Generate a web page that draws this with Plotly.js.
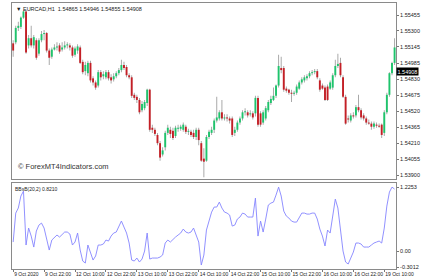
<!DOCTYPE html>
<html><head><meta charset="utf-8">
<script src="https://cdn.plot.ly/plotly-3.0.1.min.js"></script>
<style>html,body{margin:0;padding:0;background:#fff}#c{width:430px;height:280px}</style>
</head><body><div id="c"></div>
<script>
const open_=[1.5518,1.5519,1.5533,1.5534,1.5543,1.5549,1.5516,1.5523,1.5516,1.5521,
1.5508,1.5521,1.5527,1.5528,1.5511,1.5505,1.5512,1.5514,1.5516,1.5512,
1.5514,1.5516,1.5516,1.5514,1.5507,1.5511,1.5514,1.5500,1.5491,1.5489,
1.5499,1.5484,1.5480,1.5477,1.5490,1.5486,1.5485,1.5490,1.5485,1.5483,
1.5486,1.5489,1.5492,1.5497,1.5495,1.5487,1.5485,1.5468,1.5466,1.5463,
1.5453,1.5455,1.5460,1.5473,1.5436,1.5434,1.5429,1.5421,1.5410,1.5417,
1.5431,1.5434,1.5433,1.5428,1.5435,1.5435,1.5434,1.5437,1.5432,1.5432,
1.5431,1.5427,1.5434,1.5421,1.5406,1.5404,1.5427,1.5431,1.5434,1.5443,
1.5445,1.5451,1.5445,1.5446,1.5445,1.5445,1.5431,1.5434,1.5441,1.5445,
1.5451,1.5451,1.5449,1.5450,1.5450,1.5465,1.5450,1.5441,1.5445,1.5453,
1.5460,1.5463,1.5467,1.5477,1.5494,1.5494,1.5474,1.5473,1.5470,1.5469,
1.5470,1.5474,1.5480,1.5482,1.5484,1.5486,1.5489,1.5490,1.5491,1.5482,
1.5477,1.5475,1.5476,1.5474,1.5475,1.5487,1.5496,1.5499,1.5485,1.5466,
1.5445,1.5443,1.5448,1.5448,1.5456,1.5453,1.5448,1.5445,1.5441,1.5440,
1.5437,1.5439,1.5438,1.5439,1.5431,1.5451,1.5468,1.5489,1.5499];
const high_=[1.5521,1.5535,1.5539,1.5544,1.5550,1.5550,1.5526,1.5535,1.5526,1.5523,
1.5523,1.5530,1.5531,1.5529,1.5513,1.5514,1.5517,1.5519,1.5518,1.5519,
1.5520,1.5519,1.5518,1.5516,1.5515,1.5517,1.5516,1.5502,1.5500,1.5501,
1.5501,1.5486,1.5482,1.5492,1.5492,1.5491,1.5492,1.5492,1.5488,1.5489,
1.5491,1.5494,1.5502,1.5500,1.5497,1.5489,1.5487,1.5470,1.5468,1.5465,
1.5462,1.5463,1.5474,1.5474,1.5439,1.5436,1.5431,1.5423,1.5417,1.5433,
1.5439,1.5437,1.5436,1.5438,1.5439,1.5439,1.5441,1.5439,1.5435,1.5434,
1.5434,1.5436,1.5436,1.5423,1.5416,1.5429,1.5434,1.5437,1.5445,1.5466,
1.5453,1.5463,1.5449,1.5449,1.5447,1.5447,1.5437,1.5443,1.5447,1.5453,
1.5455,1.5453,1.5453,1.5452,1.5467,1.5467,1.5452,1.5453,1.5457,1.5463,
1.5467,1.5475,1.5478,1.5507,1.5505,1.5496,1.5476,1.5474,1.5473,1.5472,
1.5478,1.5482,1.5485,1.5487,1.5488,1.5491,1.5492,1.5493,1.5493,1.5484,
1.5479,1.5477,1.5478,1.5482,1.5489,1.5502,1.5508,1.5504,1.5487,1.5468,
1.5448,1.5450,1.5451,1.5458,1.5468,1.5455,1.5450,1.5447,1.5444,1.5442,
1.5442,1.5441,1.5440,1.5440,1.5453,1.5470,1.5490,1.5500,1.5523];
const low_=[1.5505,1.5517,1.5530,1.5532,1.5542,1.5508,1.5513,1.5514,1.5513,1.5502,
1.5506,1.5519,1.5521,1.5509,1.5497,1.5503,1.5511,1.5511,1.5508,1.5510,
1.5512,1.5513,1.5511,1.5504,1.5505,1.5508,1.5498,1.5488,1.5487,1.5486,
1.5480,1.5477,1.5473,1.5475,1.5482,1.5483,1.5483,1.5482,1.5479,1.5481,
1.5484,1.5487,1.5490,1.5492,1.5485,1.5483,1.5465,1.5463,1.5460,1.5449,
1.5451,1.5453,1.5457,1.5432,1.5431,1.5428,1.5419,1.5404,1.5408,1.5414,
1.5429,1.5426,1.5424,1.5426,1.5432,1.5433,1.5432,1.5430,1.5429,1.5427,
1.5425,1.5424,1.5419,1.5403,1.5388,1.5403,1.5425,1.5429,1.5431,1.5441,
1.5443,1.5443,1.5443,1.5442,1.5440,1.5427,1.5428,1.5432,1.5439,1.5443,
1.5448,1.5446,1.5447,1.5444,1.5447,1.5437,1.5437,1.5439,1.5443,1.5451,
1.5458,1.5462,1.5465,1.5475,1.5489,1.5471,1.5470,1.5468,1.5461,1.5467,
1.5468,1.5473,1.5478,1.5480,1.5482,1.5484,1.5487,1.5488,1.5483,1.5471,
1.5473,1.5462,1.5462,1.5473,1.5473,1.5485,1.5494,1.5485,1.5465,1.5439,
1.5441,1.5441,1.5445,1.5446,1.5451,1.5444,1.5443,1.5439,1.5439,1.5434,
1.5435,1.5436,1.5436,1.5426,1.5428,1.5449,1.5466,1.5487,1.5497];
const close_=[1.5511,1.5533,1.5535,1.5543,1.5549,1.5509,1.5523,1.5516,1.5524,1.5504,
1.5521,1.5527,1.5528,1.5511,1.5504,1.5512,1.5514,1.5515,1.5510,1.5514,
1.5516,1.5517,1.5514,1.5506,1.5513,1.5515,1.5499,1.5490,1.5497,1.5499,
1.5482,1.5480,1.5475,1.5490,1.5485,1.5488,1.5490,1.5484,1.5482,1.5486,
1.5489,1.5492,1.5497,1.5494,1.5487,1.5485,1.5467,1.5465,1.5463,1.5451,
1.5459,1.5461,1.5473,1.5434,1.5434,1.5430,1.5421,1.5407,1.5414,1.5431,
1.5436,1.5430,1.5426,1.5436,1.5436,1.5437,1.5439,1.5432,1.5433,1.5429,
1.5427,1.5434,1.5424,1.5404,1.5403,1.5427,1.5432,1.5434,1.5443,1.5446,
1.5451,1.5445,1.5446,1.5445,1.5443,1.5429,1.5434,1.5441,1.5445,1.5451,
1.5452,1.5448,1.5450,1.5446,1.5465,1.5439,1.5439,1.5451,1.5455,1.5461,
1.5464,1.5467,1.5477,1.5496,1.5492,1.5473,1.5472,1.5470,1.5469,1.5470,
1.5476,1.5480,1.5483,1.5485,1.5486,1.5489,1.5490,1.5491,1.5485,1.5473,
1.5474,1.5463,1.5463,1.5480,1.5487,1.5496,1.5498,1.5487,1.5466,1.5440,
1.5444,1.5448,1.5447,1.5456,1.5453,1.5446,1.5445,1.5441,1.5440,1.5437,
1.5440,1.5438,1.5437,1.5429,1.5451,1.5468,1.5489,1.5499,1.5514];
const pctB=[0.176,0.729,0.825,1.054,1.149,0.119,0.443,0.290,0.080,0.386,
0.500,0.538,0.443,0.233,0.023,0.214,0.271,0.310,0.271,0.329,
0.367,0.367,0.329,0.119,0.176,0.348,0.023,-0.187,-0.225,0.119,
-0.034,-0.168,-0.091,0.119,0.119,0.138,0.214,0.195,0.290,0.348,
0.367,0.462,0.577,0.462,0.348,0.157,-0.168,-0.187,-0.130,-0.206,
-0.149,0.004,0.348,-0.149,-0.130,-0.130,-0.130,-0.111,-0.072,0.157,
0.214,0.176,0.233,0.271,0.310,0.348,0.424,0.367,0.348,0.367,
0.443,0.290,0.176,-0.263,-0.072,0.405,0.557,0.748,0.844,0.844,
0.939,0.825,0.748,0.729,0.691,0.481,0.500,0.615,0.653,0.729,
0.710,0.653,0.653,0.653,1.015,0.290,0.576,0.367,0.615,0.882,
0.920,0.939,1.073,1.225,1.054,0.767,0.672,0.634,0.576,0.557,
0.557,0.653,0.729,0.729,0.710,0.710,0.729,0.729,0.615,0.424,
0.290,0.100,0.405,0.348,0.653,0.996,0.825,0.405,0.004,-0.206,
-0.244,-0.130,-0.015,0.157,0.157,0.138,0.080,0.080,0.080,0.119,
0.157,0.176,0.195,0.157,0.443,0.863,1.130,1.225,1.187];
const tickIdx=[0,12,24,36,48,60,72,84,96,108,120,132,144];
const tickText=["9 Oct 2020","9 Oct 22:00","12 Oct 10:00","12 Oct 22:00","13 Oct 10:00","13 Oct 22:00","14 Oct 10:00","14 Oct 22:00","15 Oct 10:00","15 Oct 22:00","16 Oct 10:00","16 Oct 22:00","19 Oct 10:00"];
const priceTicks=[1.55455,1.55300,1.55145,1.54985,1.54830,1.54675,1.54520,1.54365,1.54210,1.54055,1.53900];
const indTicks=[1.2253,0,-0.3012];
const indTickText=["1.2253","0.00","-0.3012"];
const header="▼ EURCAD,H1  1.54865 1.54946 1.54855 1.54908";
const lastPrice=1.54908;
const indLabel="BBsB(20,2) 0.8210";
const copyright="© ForexMT4Indicators.com";

const idx=open_.map((_,i)=>i);
const wickH=high_.map((h,i)=>h-low_[i]);
const bodyBase=open_.map((o,i)=>Math.min(o,close_[i]));
const bodyH=open_.map((o,i)=>Math.max(Math.abs(close_[i]-o),0.00006));
const bodyCol=open_.map((o,i)=>close_[i]>o?'#1ec46c':(close_[i]<o?'#c41f26':'#9a9a9a'));
const F="Liberation Sans, Arial, sans-serif";
const grey='#a3a3a3';

const traces=[
 {type:'bar',x:idx,base:low_,y:wickH,xaxis:'x2',yaxis:'y',width:0.36,
  marker:{color:grey,line:{width:0}},hoverinfo:'skip',showlegend:false},
 {type:'bar',x:idx,base:bodyBase,y:bodyH,xaxis:'x2',yaxis:'y',width:0.74,
  marker:{color:bodyCol,line:{width:0}},hoverinfo:'skip',showlegend:false},
 {type:'scatter',mode:'lines',x:idx,y:pctB,xaxis:'x',yaxis:'y2',
  line:{color:'#8585ff',width:0.9},hoverinfo:'skip',showlegend:false}
];
const rng=[-0.45,148.55];
const layout={
 width:430,height:280,margin:{l:12,r:34,t:3,b:11},barmode:'overlay',
 paper_bgcolor:'#fff',plot_bgcolor:'#fff',showlegend:false,
 font:{family:F,size:6,color:'#222'},
 xaxis:{domain:[0,1],anchor:'y2',range:rng,showgrid:false,zeroline:false,
  tickmode:'array',tickvals:tickIdx,ticktext:tickText,ticks:'outside',ticklen:2,tickcolor:'#777',tickangle:0,
  ticklabelposition:'outside right',tickfont:{size:5,color:'#222'},automargin:false,
  showline:true,linecolor:'#8a8a8a',linewidth:1,mirror:true},
 xaxis2:{domain:[0,1],anchor:'y',matches:'x',range:rng,showgrid:false,zeroline:false,showticklabels:false,ticks:'',
  showline:true,linecolor:'#8a8a8a',linewidth:1,mirror:true},
 yaxis:{domain:[0.338,1],range:[1.53861,1.55572],side:'right',anchor:'x2',showgrid:false,zeroline:false,
  tickmode:'array',tickvals:priceTicks,ticktext:priceTicks.map(v=>v.toFixed(5)),ticks:'outside',ticklen:2,tickcolor:'#777',
  tickfont:{size:5.5,color:'#222'},showline:true,linecolor:'#8a8a8a',linewidth:1,mirror:true,automargin:false},
 yaxis2:{domain:[0,0.323],range:[-0.339,1.302],side:'right',anchor:'x',showgrid:false,zeroline:false,
  tickmode:'array',tickvals:indTicks,ticktext:indTickText,ticks:'outside',ticklen:2,tickcolor:'#777',
  tickfont:{size:5.5,color:'#222'},showline:true,linecolor:'#8a8a8a',linewidth:1,mirror:true,automargin:false},
 annotations:[
  {xref:'paper',yref:'paper',x:0.006,y:0.997,xanchor:'left',yanchor:'top',text:header,showarrow:false,font:{size:5.5,color:'#222'}},
  {xref:'paper',yref:'paper',x:0.01,y:0.36,xanchor:'left',yanchor:'bottom',text:copyright,showarrow:false,font:{size:7.5,color:'#333'}},
  {xref:'paper',yref:'paper',x:0.003,y:0.318,xanchor:'left',yanchor:'top',text:indLabel,showarrow:false,font:{size:5,color:'#222'}},
  {xref:'paper',yref:'y',x:1.0,y:lastPrice,xanchor:'left',yanchor:'middle',text:lastPrice.toFixed(5),showarrow:false,
   bgcolor:'#000',font:{size:5.5,color:'#fff'},borderpad:0.5}
 ]
};
Plotly.newPlot('c',traces,layout,{staticPlot:true,displayModeBar:false});
</script></body></html>
